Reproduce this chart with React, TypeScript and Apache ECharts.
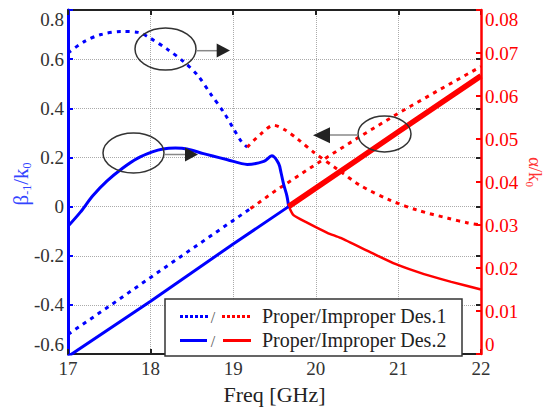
import React, { useEffect, useRef } from "react";
import * as echarts from "echarts";

// ---------- data ----------
// alpha/k0 , design 1 (right axis)
const alpha1Proper: [number, number][] = [
  [17.0, 0.07], [17.2, 0.0727], [17.4, 0.0743], [17.65, 0.075], [17.85, 0.0748],
  [18.0, 0.0734], [18.2, 0.0709], [18.4, 0.068], [18.57, 0.0648], [18.73, 0.0604],
  [18.89, 0.0561], [19.01, 0.0522], [19.1, 0.0494], [19.17, 0.0481],
];
const alpha1Improper: [number, number][] = [
  [19.17, 0.0481], [19.33, 0.0511], [19.49, 0.0532], [19.63, 0.0521], [19.78, 0.05],
  [19.97, 0.047], [20.26, 0.043], [20.54, 0.0392], [20.91, 0.0357], [21.24, 0.0334],
  [21.6, 0.0316], [21.84, 0.0305], [22.0, 0.03],
];
// beta/k0 , design 1 (left axis)
const beta1Proper: [number, number][] = [
  [17.0, -0.52], [17.5, -0.405], [18.0, -0.288], [18.5, -0.172], [19.0, -0.056], [19.21, -0.008],
];
const beta1Improper: [number, number][] = [
  [19.21, -0.008], [19.5, 0.062], [20.0, 0.172], [20.5, 0.278], [21.0, 0.38], [21.5, 0.476], [22.0, 0.57],
];
// alpha/k0 , design 2 (right axis)
const alpha2Proper: [number, number][] = [
  [17.0, 0.0297], [17.15, 0.033], [17.3, 0.0368], [17.47, 0.0402], [17.66, 0.0432],
  [17.84, 0.0455], [18.02, 0.047], [18.15, 0.0477], [18.3, 0.0479], [18.44, 0.0477],
  [18.64, 0.0466], [18.93, 0.0452], [19.17, 0.0441], [19.37, 0.0448], [19.47, 0.0461],
  [19.55, 0.0443], [19.58, 0.0421], [19.61, 0.0395], [19.65, 0.0368], [19.67, 0.0345],
];
const alpha2Improper: [number, number][] = [
  [19.67, 0.0345], [19.73, 0.0323], [19.9, 0.0305], [20.14, 0.0282], [20.3, 0.027],
  [20.67, 0.0236], [20.97, 0.0209], [21.31, 0.0186], [21.64, 0.0168], [22.0, 0.015],
];
// beta/k0 , design 2 (left axis)
const beta2Proper: [number, number][] = [
  [17.0, -0.61], [18.0, -0.385], [19.0, -0.152], [19.67, 0.0],
];
const beta2Improper: [number, number][] = [
  [19.67, 0.0], [20.5, 0.19], [21.0, 0.305], [22.0, 0.532],
];

const legendLabels = ["Proper/Improper Des.1", "Proper/Improper Des.2"];
const xAxisName = "Freq [GHz]";

const FONT = "'Liberation Serif', 'Times New Roman', Times, serif";
const BLUE = "#0000ff";
const RED = "#ff0000";
const DASH = [4, 5];

function line(data: [number, number][], yAxisIndex: number, color: string, width: number, dashed: boolean, smooth: number | boolean, z = 3) {
  return {
    type: "line",
    data,
    xAxisIndex: 0,
    yAxisIndex,
    symbol: "none",
    showSymbol: false,
    smooth,
    silent: true,
    z,
    lineStyle: { color, width, type: dashed ? DASH : "solid", cap: "butt" },
  };
}

export default function App() {
  const ref = useRef<HTMLDivElement>(null);
  useEffect(() => {
    if (!ref.current) return;
    const chart = echarts.init(ref.current, undefined, { renderer: "svg" });
    const tickLabel = { fontFamily: FONT, fontSize: 19, color: "#333" };
    const option: any = {
      animation: false,
      textStyle: { fontFamily: FONT },
      grid: { left: 68, right: 64, top: 10, bottom: 48 },
      xAxis: [
        {
          type: "value", min: 17, max: 22, interval: 1, position: "bottom",
          axisLine: { show: true, onZero: false, lineStyle: { color: "#222", width: 2 } },
          axisTick: { show: true, inside: true, length: 5, lineStyle: { color: "#222", width: 2 } },
          axisLabel: { ...tickLabel, margin: 5 },
          splitLine: { show: true, lineStyle: { color: "#aaa", type: "dotted", width: 1 } },
          name: xAxisName, nameLocation: "middle", nameGap: 25,
          nameTextStyle: { fontFamily: FONT, fontSize: 22, color: "#222" },
        },
        {
          type: "value", min: 17, max: 22, interval: 1, position: "top",
          axisLine: { show: true, onZero: false, lineStyle: { color: "#222", width: 2 } },
          axisTick: { show: true, inside: true, length: 5, lineStyle: { color: "#222", width: 2 } },
          axisLabel: { show: false }, splitLine: { show: false },
        },
      ],
      yAxis: [
        {
          type: "value", min: -0.6, max: 0.8, interval: 0.2, position: "left",
          axisLine: { show: true, onZero: false, lineStyle: { color: BLUE, width: 3 } },
          axisTick: { show: true, inside: true, length: 5, lineStyle: { color: BLUE, width: 2 } },
          axisLabel: { ...tickLabel, margin: 4, verticalAlignMinLabel: "bottom", verticalAlignMaxLabel: "top" },
          splitLine: { show: true, lineStyle: { color: "#aaa", type: "dotted", width: 1 } },
        },
        {
          type: "value", min: 0, max: 0.08, interval: 0.01, position: "right",
          axisLine: { show: true, onZero: false, lineStyle: { color: RED, width: 2.5 } },
          axisTick: { show: true, inside: true, length: 5, lineStyle: { color: RED, width: 2 } },
          axisLabel: { ...tickLabel, color: RED, margin: 4, verticalAlignMinLabel: "bottom", verticalAlignMaxLabel: "top" },
          splitLine: { show: false },
          z: 5,
        },
        {
          type: "value", min: -0.6, max: 0.8, interval: 0.2, position: "right", offset: 0,
          axisLine: { show: false, onZero: false },
          axisTick: { show: true, inside: true, length: 5, lineStyle: { color: "#222", width: 2 } },
          axisLabel: { show: false }, splitLine: { show: false },
          z: 1,
        },
      ],
      series: [
        line(beta1Proper, 0, BLUE, 3, true, false),
        line(beta1Improper, 0, RED, 3, true, false),
        line(alpha1Proper, 1, BLUE, 3, true, 0.3),
        line(alpha1Improper, 1, RED, 3, true, 0.3),
        line(alpha2Proper, 1, BLUE, 3, false, 0.3),
        line(alpha2Improper, 1, RED, 2.5, false, 0.2),
        line(beta2Proper, 0, BLUE, 3, false, false),
        line(beta2Improper, 0, RED, 5.5, false, false, 4),
      ],
      graphic: [
        // axis titles
        {
          type: "text", x: 21, y: 184, rotation: Math.PI / 2, z: 100,
          style: {
            text: "{m|β}{s|-1}{m|/k}{s|0}", align: "center", verticalAlign: "middle",
            rich: {
              m: { fontFamily: FONT, fontSize: 21, fill: "#3344ff", lineHeight: 24 },
              s: { fontFamily: FONT, fontSize: 12, fill: "#3344ff", lineHeight: 12, verticalAlign: "bottom" },
            },
          },
        },
        {
          type: "text", x: 535, y: 172, rotation: -Math.PI / 2, z: 100,
          style: {
            text: "{m|α/k}{s|0}", align: "center", verticalAlign: "middle",
            rich: {
              m: { fontFamily: FONT, fontSize: 19, fill: "#ff3333", lineHeight: 22 },
              s: { fontFamily: FONT, fontSize: 11, fill: "#ff3333", lineHeight: 11, verticalAlign: "bottom" },
            },
          },
        },
        // annotations
        { type: "ellipse", z: 100, shape: { cx: 165.5, cy: 49, rx: 30.5, ry: 21 }, style: { fill: "none", stroke: "#333", lineWidth: 1.5 } },
        { type: "line", z: 100, shape: { x1: 196, y1: 50.7, x2: 218, y2: 50.7 }, style: { stroke: "#888", lineWidth: 1.5 } },
        { type: "polygon", z: 100, shape: { points: [[216.7, 43.5], [216.7, 57.5], [230, 50.5]] }, style: { fill: "#222" } },

        { type: "ellipse", z: 100, shape: { cx: 133.5, cy: 153, rx: 30.5, ry: 20 }, style: { fill: "none", stroke: "#333", lineWidth: 1.5 } },
        { type: "line", z: 100, shape: { x1: 164, y1: 154.5, x2: 186, y2: 154.5 }, style: { stroke: "#888", lineWidth: 1.5 } },
        { type: "polygon", z: 100, shape: { points: [[185, 147.5], [185, 161.5], [198, 154.5]] }, style: { fill: "#222" } },

        { type: "ellipse", z: 100, shape: { cx: 384.5, cy: 134, rx: 26.5, ry: 18 }, style: { fill: "none", stroke: "#333", lineWidth: 1.5 } },
        { type: "line", z: 100, shape: { x1: 358, y1: 135, x2: 329, y2: 135 }, style: { stroke: "#888", lineWidth: 1.5 } },
        { type: "polygon", z: 100, shape: { points: [[330, 127.3], [330, 143.3], [313, 135.3]] }, style: { fill: "#222" } },

        // legend
        { type: "rect", z: 100, shape: { x: 165, y: 299, width: 297, height: 57 }, style: { fill: "#fff", stroke: "#333", lineWidth: 1.5 } },
        { type: "line", z: 101, shape: { x1: 180, y1: 316.5, x2: 208, y2: 316.5 }, style: { stroke: BLUE, lineWidth: 3, lineDash: [3, 2] } },
        { type: "text", z: 101, x: 213, y: 317, style: { text: "/", fontFamily: FONT, fontSize: 16, fill: "#555", align: "center", verticalAlign: "middle" } },
        { type: "line", z: 101, shape: { x1: 222, y1: 316.5, x2: 250, y2: 316.5 }, style: { stroke: RED, lineWidth: 3, lineDash: [3, 2] } },
        { type: "text", z: 101, x: 262, y: 316, style: { text: legendLabels[0], fontFamily: FONT, fontSize: 20, fill: "#222", align: "left", verticalAlign: "middle" } },
        { type: "line", z: 101, shape: { x1: 180, y1: 340.5, x2: 207, y2: 340.5 }, style: { stroke: BLUE, lineWidth: 3 } },
        { type: "text", z: 101, x: 213, y: 341, style: { text: "/", fontFamily: FONT, fontSize: 16, fill: "#555", align: "center", verticalAlign: "middle" } },
        { type: "line", z: 101, shape: { x1: 223, y1: 340.5, x2: 251, y2: 340.5 }, style: { stroke: RED, lineWidth: 3 } },
        { type: "text", z: 101, x: 262, y: 340, style: { text: legendLabels[1], fontFamily: FONT, fontSize: 20, fill: "#222", align: "left", verticalAlign: "middle" } },
      ],
    };
    chart.setOption(option);
    return () => chart.dispose();
  }, []);
  return (
    <div
      ref={ref}
      style={{ position: "fixed", left: 0, top: 0, width: 545, height: 410, background: "#fff" }}
    />
  );
}
